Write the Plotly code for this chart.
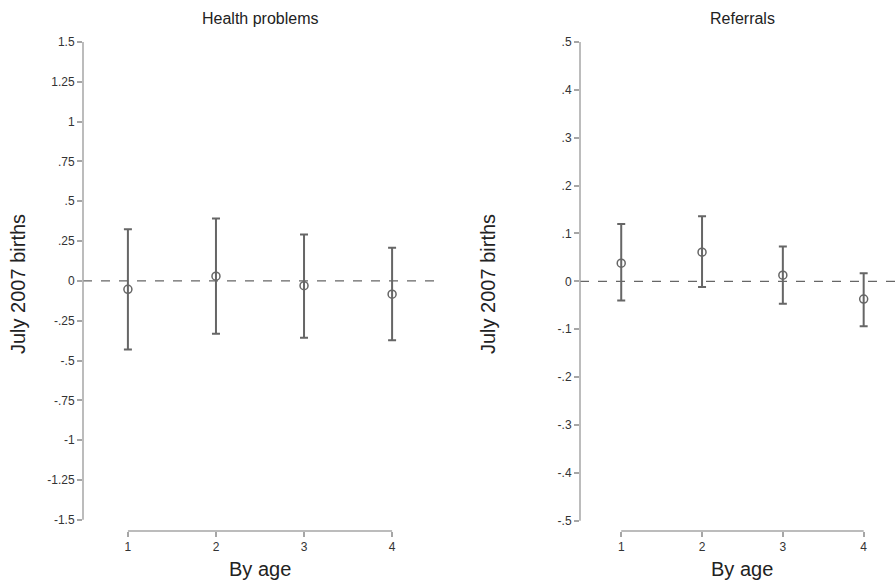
import plotly.graph_objects as go

# Estimates by child age, July 2007 births
ages = [1, 2, 3, 4]

health_est = [-0.053, 0.030, -0.030, -0.083]
health_hi = [0.325, 0.392, 0.292, 0.208]
health_lo = [-0.430, -0.331, -0.357, -0.372]

referral_est = [0.038, 0.061, 0.013, -0.037]
referral_hi = [0.120, 0.136, 0.073, 0.017]
referral_lo = [-0.040, -0.012, -0.047, -0.094]

health_ticks = [1.5, 1.25, 1, 0.75, 0.5, 0.25, 0, -0.25, -0.5, -0.75, -1, -1.25, -1.5]
health_ticktext = ["1.5", "1.25", "1", ".75", ".5", ".25", "0", "-.25", "-.5", "-.75", "-1", "-1.25", "-1.5"]
referral_ticks = [0.5, 0.4, 0.3, 0.2, 0.1, 0, -0.1, -0.2, -0.3, -0.4, -0.5]
referral_ticktext = [".5", ".4", ".3", ".2", ".1", "0", "-.1", "-.2", "-.3", "-.4", "-.5"]

FONT = "Liberation Sans, Arial, sans-serif"
MARK = "#666666"
AXIS = "#a6a6a6"
TEXT = "#333333"

fig = go.Figure()


def add_panel(est, hi, lo, xa, ya):
    fig.add_trace(go.Scatter(
        x=ages, y=est, mode="markers", xaxis=xa, yaxis=ya,
        marker=dict(symbol="circle-open", size=8, color=MARK, line=dict(width=1.5, color=MARK)),
        error_y=dict(type="data", symmetric=False,
                     array=[h - e for h, e in zip(hi, est)],
                     arrayminus=[e - l for e, l in zip(est, lo)],
                     color=MARK, thickness=2, width=4),
        showlegend=False, hoverinfo="skip",
    ))


add_panel(health_est, health_hi, health_lo, "x", "y")
add_panel(referral_est, referral_hi, referral_lo, "x2", "y2")

ydom = [1 - 531 / 585, 1 - 42 / 585]

common_x = dict(tickvals=ages, ticktext=[str(a) for a in ages], ticks="outside", ticklen=5,
                tickwidth=1.5, tickcolor=AXIS, showline=False, showgrid=False, zeroline=False,
                automargin=False, tickfont=dict(family=FONT, size=12, color=TEXT), fixedrange=True)
common_y = dict(ticks="outside", ticklen=5, tickwidth=1.5, tickcolor=AXIS, showline=False,
                showgrid=False, zeroline=False, automargin=False,
                tickfont=dict(family=FONT, size=12, color=TEXT), fixedrange=True)

fig.update_layout(
    width=896, height=585,
    margin=dict(l=0, r=0, t=0, b=0, autoexpand=False),
    paper_bgcolor="white", plot_bgcolor="white",
    xaxis=dict(domain=[83 / 896, 437 / 896], range=[0.49, 4.51], anchor="y", **common_x),
    yaxis=dict(domain=ydom, range=[-1.57, 1.5], tickvals=health_ticks, ticktext=health_ticktext,
               anchor="x", **common_y),
    xaxis2=dict(domain=[580 / 896, 1.0], range=[0.49, 4.40], anchor="y2", **common_x),
    yaxis2=dict(domain=ydom, range=[-0.5215, 0.5], tickvals=referral_ticks,
                ticktext=referral_ticktext, anchor="x2", **common_y),
)

# Axis lines: y spans the labelled range, x spans the age categories
for xr, yr, ymin, ymax in [("x", "y", -1.5, 1.5), ("x2", "y2", -0.5, 0.5)]:
    fig.add_shape(type="line", xref=f"{xr} domain", yref=yr, x0=0, x1=0, y0=ymin, y1=ymax,
                  line=dict(color=AXIS, width=1.5))
    fig.add_shape(type="line", xref=xr, yref=f"{yr} domain", x0=ages[0], x1=ages[-1], y0=0, y1=0,
                  line=dict(color=AXIS, width=1.5))
    fig.add_shape(type="line", xref=f"{xr} domain", yref=yr, x0=0, x1=1, y0=0, y1=0,
                  line=dict(color=MARK, width=1.3, dash="dash"), layer="below")

# Panel titles and axis titles
for cx, title in [(260, "Health problems"), (742, "Referrals")]:
    fig.add_annotation(text=title, x=cx / 896, y=1 - 18 / 585, xref="paper", yref="paper",
                       showarrow=False, font=dict(family=FONT, size=16, color="#222222"),
                       xanchor="center", yanchor="middle")
    fig.add_annotation(text="By age", x=cx / 896, y=1 - 569 / 585, xref="paper", yref="paper",
                       showarrow=False, font=dict(family=FONT, size=20, color="#222222"),
                       xanchor="center", yanchor="middle")
for tx in [18, 488]:
    fig.add_annotation(text="July 2007 births", x=tx / 896, y=1 - 284 / 585, xref="paper",
                       yref="paper", showarrow=False, textangle=-90,
                       font=dict(family=FONT, size=20, color="#222222"),
                       xanchor="center", yanchor="middle")

fig.write_html("out.html")
